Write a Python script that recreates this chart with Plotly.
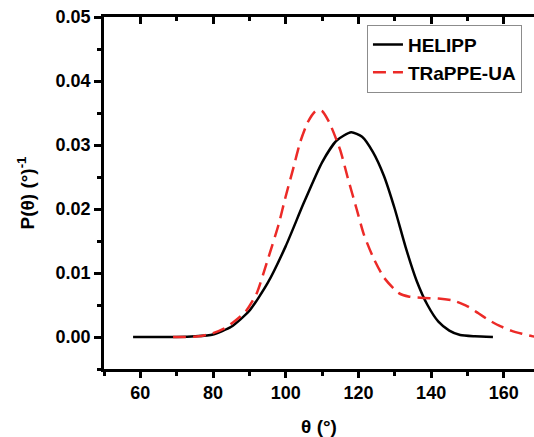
import plotly.graph_objects as go

# HELIPP (black solid)
theta_helipp = [58, 65, 70, 75, 80, 85, 90, 95, 100, 105, 110, 114, 118, 121, 124, 127,
                130, 133, 136, 139, 142, 145, 148, 152, 157]
p_helipp = [0.0, 0.0, 0.0, 0.0001, 0.0004, 0.0016, 0.0041, 0.0084, 0.0142, 0.0210, 0.0273,
            0.0307, 0.0320, 0.0313, 0.0289, 0.0252, 0.0200, 0.0140, 0.0088, 0.0050, 0.0024,
            0.0010, 0.0003, 0.0001, 0.0]

# TRaPPE-UA (red dashed)
theta_trappe = [69, 72, 76, 80, 83, 86, 89, 92, 95, 98, 100, 102, 104, 106, 108, 109, 110,
                112, 115, 117, 119.5, 121.5, 124, 127, 131, 134, 138, 142, 146, 150, 153,
                156, 159, 162, 165, 168, 170]
p_trappe = [0.0, 0.0, 0.0001, 0.0006, 0.0013, 0.0025, 0.0040, 0.0068, 0.0120, 0.0175, 0.0220,
            0.0262, 0.0305, 0.0335, 0.0352, 0.0355, 0.0353, 0.0335, 0.0292, 0.0250, 0.0200,
            0.0160, 0.0125, 0.0093, 0.0069, 0.0063, 0.0061, 0.0060, 0.0057, 0.0048, 0.0037,
            0.0026, 0.0017, 0.0010, 0.0005, 0.0001, 0.0]

x_range = [50, 168.3]
y_range = [-0.005, 0.05]

FONT = "Arial, Liberation Sans, sans-serif"

fig = go.Figure()
fig.add_trace(go.Scatter(x=theta_helipp, y=p_helipp, mode="lines", name="HELIPP",
                         line=dict(color="black", width=2.5, shape="spline", smoothing=0.6)))
fig.add_trace(go.Scatter(x=theta_trappe, y=p_trappe, mode="lines", name="TRaPPE-UA",
                         line=dict(color="#ec2a27", width=2.5, dash="13px,7px",
                                   shape="spline", smoothing=0.6)))
# invisible trace to carry the top mirrored axis
fig.add_trace(go.Scatter(x=[None], y=[None], xaxis="x2", showlegend=False, hoverinfo="skip"))

tickfont = dict(family=FONT, size=18, color="black", weight="bold")
LW = 2.5

fig.update_layout(
    width=534, height=437,
    margin=dict(l=104, r=0, t=17, b=68),
    plot_bgcolor="white", paper_bgcolor="white",
    xaxis=dict(range=x_range, dtick=20, showgrid=False, zeroline=False,
               showline=True, linecolor="black", linewidth=LW,
               ticks="outside", ticklen=6, tickwidth=LW, tickcolor="black",
               minor=dict(dtick=10, ticks="outside", ticklen=4, tickwidth=LW, tickcolor="black"),
               tickfont=tickfont,
               title=dict(text="θ (°)", font=dict(family=FONT, size=19, color="black", weight="bold"),
                          standoff=18)),
    xaxis2=dict(range=x_range, overlaying="x", side="top", anchor="y", dtick=20,
                showgrid=False, zeroline=False, showline=True, linecolor="black", linewidth=LW,
                ticks="inside", ticklen=7, tickwidth=LW, tickcolor="black",
                minor=dict(dtick=10, ticks="inside", ticklen=4, tickwidth=LW, tickcolor="black"),
                showticklabels=False),
    yaxis=dict(range=y_range, dtick=0.01, tickformat=".2f", showgrid=False, zeroline=False,
               showline=True, linecolor="black", linewidth=LW,
               ticks="outside", ticklen=7, tickwidth=LW, tickcolor="black",
               minor=dict(dtick=0.005, ticks="outside", ticklen=4, tickwidth=LW, tickcolor="black"),
               tickfont=tickfont,
               title=dict(text="P(θ) (°)<sup>-1</sup>",
                          font=dict(family=FONT, size=19, color="black", weight="bold"),
                          standoff=16)),
    legend=dict(x=0.972, y=0.978, xanchor="right", yanchor="top",
                bordercolor="#8c8c8c", borderwidth=1, bgcolor="white",
                font=dict(family=FONT, size=19, color="black", weight="bold"),
                tracegroupgap=0),
    showlegend=True,
)

fig.write_html("out.html")
